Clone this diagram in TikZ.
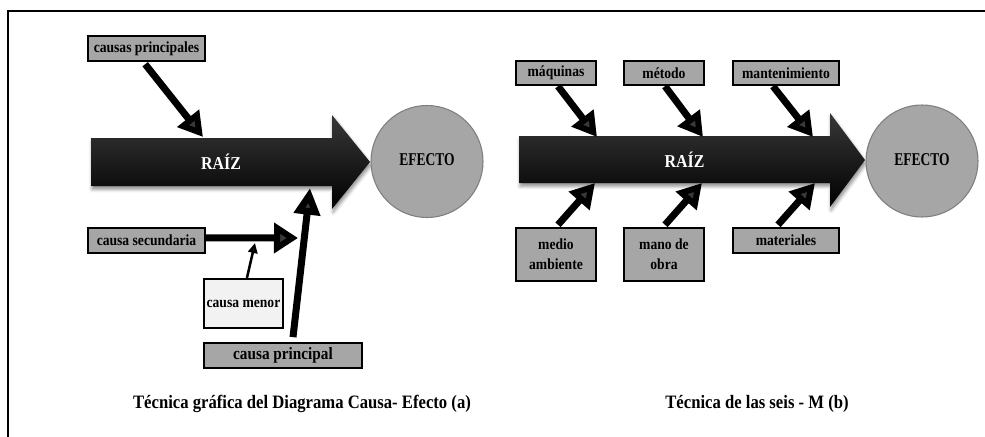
\documentclass[tikz,border=0pt]{standalone}
\usepackage{fontspec}
\setmainfont{Liberation Serif}[FakeStretch=0.88]
\newfontfamily\narrowserif{Liberation Serif}[FakeStretch=0.75]
\usetikzlibrary{arrows.meta,shadows.blur}
\definecolor{boxgray}{HTML}{A6A6A6}
\definecolor{lightbox}{HTML}{F2F2F2}
\definecolor{rimgray}{HTML}{7F7F7F}

\begin{document}
\begin{tikzpicture}[x=0.75pt,y=-0.75pt,
  box/.style={draw=black, line width=1.8pt, fill=boxgray, inner sep=0pt,
    align=center, font=\fontsize{11.6}{15}\selectfont\bfseries},
  effect/.style={circle, draw=rimgray, line width=0.8pt, fill=boxgray,
    minimum size=84pt, inner sep=0pt, font=\narrowserif\fontsize{13.5}{16}\selectfont\bfseries},
  spine/.style={top color=black!78, middle color=black, bottom color=black,
    blur shadow={shadow xshift=0.8pt, shadow yshift=-2.5pt,
    shadow opacity=45, shadow blur radius=2.5pt}},
  spinetext/.style={text=white, font=\fontsize{13.6}{16}\selectfont\bfseries},
  bone/.style={line width=5.25pt, -{Triangle[length=18pt,width=20pt]}},
  twig/.style={line width=1.9pt, -{Triangle[length=7.5pt,width=7pt]}},
  caption/.style={font=\fontsize{14.2}{17}\selectfont\bfseries}
]
\useasboundingbox (0,0) rectangle (985,436);

% outer frame (only top and left edges fall inside the page)
\draw[line width=2.2pt] (8,445) -- (8,11) -- (995,11);

% ---------------- (a) cause-effect diagram ----------------
\path[spine] (91,138) -- (332,138) -- (332,115) -- (370,162) -- (332,209)
  -- (332,186) -- (91,186) -- cycle;
\node[spinetext] (raizA) at (221,162) {RAÍZ};
\node[effect] (efA) at (427,161.5) {\raisebox{3pt}{EFECTO}};

\node[box, minimum width=87.75pt, minimum height=18.75pt] (cp) at (146.5,48.5) {causas principales};
\node[box, minimum width=87.75pt, minimum height=18.75pt] (cs) at (146.5,240.5) {causa secundaria};
\node[box, fill=lightbox, minimum width=59.25pt, minimum height=36.75pt] (cm) at (243.5,303.5) {causa menor};
\node[box, minimum width=118.5pt, minimum height=18.75pt,
  font=\fontsize{13}{15}\selectfont\bfseries] (cpl) at (283,355.5) {causa principal};

\coordinate (jA1) at (203,137);
\coordinate (jA2) at (298,238);
\coordinate (jA3) at (255,243);
\coordinate (jA4) at (310,188);

\draw[bone] ([xshift=-1pt,yshift=-1.5pt]cp.south) -- (jA1);
\draw[bone, -{Triangle[length=18pt,width=22pt]}] ([yshift=2pt]cs.east) -- (jA2);
\draw[twig] ([xshift=2.6pt]cm.north) -- (jA3);
\draw[bone, -{Triangle[length=20pt,width=19pt]}] ([xshift=7.5pt,yshift=3.5pt]cpl.north) -- (jA4);

\node[caption] (capA) at (302,404) {Técnica gráfica del Diagrama Causa- Efecto (a)};

% ---------------- (b) six-M diagram ----------------
\path[spine] (519,136) -- (830,136) -- (830,113) -- (865,160) -- (830,207)
  -- (830,183) -- (519,183) -- cycle;
\node[spinetext] (raizB) at (684.5,160) {RAÍZ};
\node[effect] (efB) at (922,161) {\raisebox{2pt}{EFECTO}};

\node[box, minimum width=60pt, minimum height=18pt] (maq) at (556,73) {máquinas};
\node[box, minimum width=60pt, minimum height=18pt] (met) at (664,73) {método};
\node[box, minimum width=79.5pt, minimum height=18pt] (man) at (786,73) {mantenimiento};
\node[box, minimum width=60pt, minimum height=39.75pt] (med) at (556,254.5) {medio\\ambiente};
\node[box, minimum width=60pt, minimum height=39.75pt] (mob) at (664,254.5) {mano de\\obra};
\node[box, minimum width=79.5pt, minimum height=18.75pt] (mat) at (786,240.5) {materiales};

\coordinate (jB1) at (597,137);
\coordinate (jB2) at (703,137);
\coordinate (jB3) at (813,137);
\coordinate (jB4) at (595,183);
\coordinate (jB5) at (702,183);
\coordinate (jB6) at (815,183);

\draw[bone] ([xshift=1.5pt]maq.south) -- (jB1);
\draw[bone] ([xshift=0.75pt]met.south) -- (jB2);
\draw[bone] ([xshift=-9.75pt]man.south) -- (jB3);
\draw[bone] ([xshift=1.5pt,yshift=1.5pt]med.north) -- (jB4);
\draw[bone] ([xshift=0.75pt,yshift=1.5pt]mob.north) -- (jB5);
\draw[bone] ([xshift=-6pt,yshift=1.5pt]mat.north) -- (jB6);

\node[caption] (capB) at (757,404) {Técnica de las seis - M (b)};
\end{tikzpicture}
\end{document}
